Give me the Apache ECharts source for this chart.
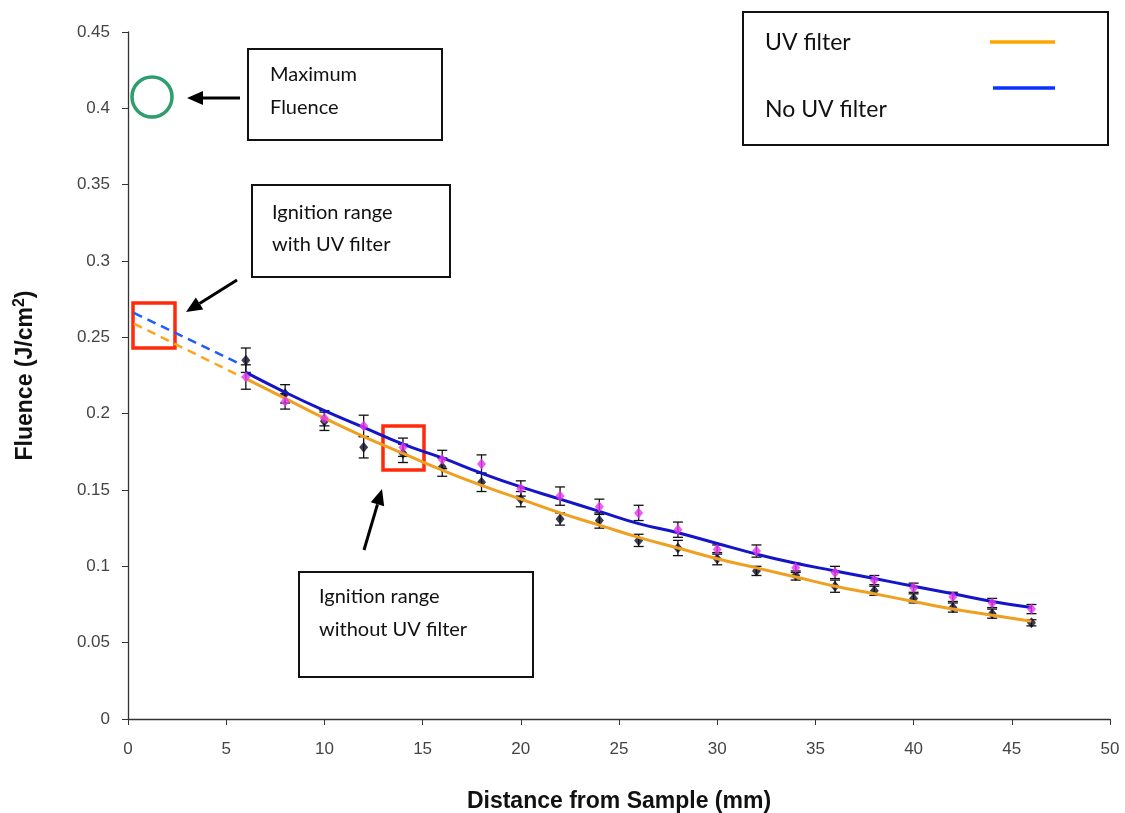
<!DOCTYPE html>
<html>
<head>
<meta charset="UTF-8">
<title>Fluence vs distance</title>
<script src="https://cdn.jsdelivr.net/npm/echarts@6/dist/echarts.min.js"></script>
<style>
html, body {
	margin: 0;
	padding: 0;
	background: #ffffff;
}

#main {
	width: 1125px;
	height: 813px;
}
</style>
</head>
<body>
	<div id="main"></div>
	<script>
		// distance from sample (mm)
		var distances = [6, 8, 10, 12, 14, 16, 18, 20, 22, 24, 26, 28, 30, 32, 34, 36, 38, 40, 42, 44, 46];
		// measured points, black diamonds
		var blackPts = [0.235, 0.213, 0.195, 0.178, 0.174, 0.165, 0.155, 0.144, 0.131, 0.130, 0.117, 0.112, 0.105, 0.097, 0.094, 0.087, 0.084, 0.079, 0.073, 0.069, 0.063];
		var blackErr = [0.008, 0.006, 0.006, 0.007, 0.006, 0.006, 0.006, 0.005, 0.004, 0.005, 0.004, 0.005, 0.004, 0.003, 0.003, 0.004, 0.003, 0.003, 0.003, 0.003, 0.002];
		// measured points, magenta diamonds
		var magentaPts = [0.224, 0.208, 0.197, 0.192, 0.178, 0.170, 0.167, 0.151, 0.146, 0.139, 0.135, 0.124, 0.111, 0.110, 0.099, 0.096, 0.091, 0.086, 0.080, 0.076, 0.072];
		var magentaErr = [0.008, 0.005, 0.005, 0.007, 0.006, 0.006, 0.006, 0.005, 0.006, 0.005, 0.005, 0.005, 0.003, 0.004, 0.003, 0.004, 0.003, 0.003, 0.003, 0.003, 0.003];
		// fitted curves
		var fitUV = [0.223, 0.210, 0.197, 0.185, 0.174, 0.163, 0.153, 0.144, 0.135, 0.127, 0.119, 0.112, 0.105, 0.099, 0.093, 0.087, 0.082, 0.077, 0.072, 0.068, 0.064];
		var fitNoUV = [0.227, 0.214, 0.202, 0.191, 0.180, 0.171, 0.161, 0.152, 0.144, 0.136, 0.128, 0.122, 0.115, 0.108, 0.102, 0.097, 0.092, 0.087, 0.082, 0.077, 0.073];
		// dashed extrapolation toward the sample
		var extraX = [0.3, 5.8];
		var extraUV = [0.259, 0.224];
		var extraNoUV = [0.266, 0.232];

		var xTicks = [0, 5, 10, 15, 20, 25, 30, 35, 40, 45, 50];

		function pairs(xs, ys) {
			return xs.map(function(x, i) { return [x, ys[i]]; });
		}
		function errRows(xs, ys, es) {
			return xs.map(function(x, i) { return [x, ys[i] - es[i], ys[i] + es[i]]; });
		}

		function errBar(params, api) {
			var top = api.coord([api.value(0), api.value(2)]);
			var bot = api.coord([api.value(0), api.value(1)]);
			var w = 5;
			var st = { stroke: '#111', lineWidth: 1.3 };
			return {
				type : 'group',
				children : [
					{ type : 'line', shape : { x1 : top[0], y1 : top[1], x2 : bot[0], y2 : bot[1] }, style : st },
					{ type : 'line', shape : { x1 : top[0] - w, y1 : top[1], x2 : top[0] + w, y2 : top[1] }, style : st },
					{ type : 'line', shape : { x1 : bot[0] - w, y1 : bot[1], x2 : bot[0] + w, y2 : bot[1] }, style : st }
				]
			};
		}

		// arrow drawn as a line with a filled head at (x2, y2)
		function arrow(x1, y1, x2, y2) {
			var a = Math.atan2(y2 - y1, x2 - x1);
			var len = 16, half = 7;
			var bx = x2 - len * Math.cos(a), by = y2 - len * Math.sin(a);
			var px = -Math.sin(a) * half, py = Math.cos(a) * half;
			return {
				type : 'group',
				children : [
					{ type : 'line', shape : { x1 : x1, y1 : y1, x2 : bx, y2 : by }, style : { stroke : '#000', lineWidth : 3 } },
					{ type : 'polygon', shape : { points : [[x2, y2], [bx + px, by + py], [bx - px, by - py]] }, style : { fill : '#000' } }
				]
			};
		}

		function textBox(x, y, w, h, lines, tx, ty, gap) {
			var kids = [{ type : 'rect', shape : { x : x, y : y, width : w, height : h }, style : { fill : '#fff', stroke : '#111', lineWidth : 2 } }];
			lines.forEach(function(t, i) {
				kids.push({ type : 'text', x : tx, y : ty + i * gap, style : { text : t, font : '20px Lato, "Open Sans", sans-serif', fill : '#111', verticalAlign : 'middle' } });
			});
			return { type : 'group', children : kids };
		}

		var boxFont = '23px Lato, "Open Sans", sans-serif';

		var option = {
			backgroundColor : '#ffffff',
			animation : false,
			grid : {
				left : 128,
				right : 15,
				top : 32,
				bottom : 94,
				outerBoundsMode : 'none'
			},
			xAxis : {
				type : 'value',
				min : 0,
				max : 50,
				interval : 5,
				name : 'Distance from Sample (mm)',
				nameLocation : 'middle',
				nameGap : 71,
				nameTextStyle : {
					fontFamily : 'Liberation Sans, Arial, sans-serif',
					fontWeight : 'bold',
					fontSize : 23,
					color : '#111'
				},
				axisLine : { lineStyle : { color : '#333', width : 1.3 } },
				axisTick : { show : true, length : 6, lineStyle : { color : '#333' } },
				axisLabel : {
					fontFamily : 'Liberation Sans, Arial, sans-serif',
					fontSize : 17,
					color : '#444',
					margin : 22,
					customValues : xTicks
				},
				splitLine : { show : false }
			},
			yAxis : {
				type : 'value',
				min : 0,
				max : 0.45,
				interval : 0.05,
				name : 'Fluence (J/cm{sup|2})',
				nameLocation : 'middle',
				nameGap : 88,
				nameTextStyle : {
					fontFamily : 'Liberation Sans, Arial, sans-serif',
					fontWeight : 'bold',
					fontSize : 23,
					color : '#111',
					rich : {
						sup : {
							fontFamily : 'Liberation Sans, Arial, sans-serif',
							fontWeight : 'bold',
							fontSize : 16,
							color : '#111',
							verticalAlign : 'bottom',
							padding : [0, 0, 12, 0]
						}
					}
				},
				axisLine : { show : true, lineStyle : { color : '#333', width : 1.3 } },
				axisTick : { show : true, length : 6, lineStyle : { color : '#333' } },
				axisLabel : {
					fontFamily : 'Liberation Sans, Arial, sans-serif',
					fontSize : 17,
					color : '#444',
					margin : 18
				},
				splitLine : { show : false }
			},
			series : [
				{
					name : 'extra UV',
					type : 'line',
					data : pairs(extraX, extraUV),
					symbol : 'none',
					lineStyle : { color : '#ffa31a', width : 2.5, type : [9, 6] },
					z : 2
				},
				{
					name : 'extra no UV',
					type : 'line',
					data : pairs(extraX, extraNoUV),
					symbol : 'none',
					lineStyle : { color : '#1f5cff', width : 2.5, type : [9, 6] },
					z : 2
				},
				{
					name : 'err black',
					type : 'custom',
					renderItem : errBar,
					data : errRows(distances, blackPts, blackErr),
					z : 3
				},
				{
					name : 'err magenta',
					type : 'custom',
					renderItem : errBar,
					data : errRows(distances, magentaPts, magentaErr),
					z : 3
				},
				{
					name : 'black points',
					type : 'scatter',
					data : pairs(distances, blackPts),
					symbol : 'diamond',
					symbolSize : [9, 11],
					itemStyle : { color : '#0d0d26' },
					z : 4
				},
				{
					name : 'UV filter',
					type : 'line',
					data : pairs(distances, fitUV),
					smooth : true,
					symbol : 'none',
					lineStyle : { color : '#f0a020', width : 3 },
					z : 5
				},
				{
					name : 'No UV filter',
					type : 'line',
					data : pairs(distances, fitNoUV),
					smooth : true,
					symbol : 'none',
					lineStyle : { color : '#1414c8', width : 3 },
					z : 5
				},
				{
					name : 'magenta points',
					type : 'scatter',
					data : pairs(distances, magentaPts),
					symbol : 'diamond',
					symbolSize : [9, 11],
					itemStyle : { color : '#e633f0' },
					z : 6
				}
			],
			graphic : [
				// legend box
				{
					type : 'group',
					children : [
						{ type : 'rect', shape : { x : 743, y : 12, width : 365, height : 133 }, style : { fill : '#fff', stroke : '#111', lineWidth : 2 } },
						{ type : 'text', x : 765, y : 43, style : { text : 'UV filter', font : boxFont, fill : '#111', verticalAlign : 'middle' } },
						{ type : 'text', x : 765, y : 110, style : { text : 'No UV filter', font : boxFont, fill : '#111', verticalAlign : 'middle' } },
						{ type : 'line', shape : { x1 : 990, y1 : 42, x2 : 1055, y2 : 42 }, style : { stroke : '#ffa500', lineWidth : 3.5 } },
						{ type : 'line', shape : { x1 : 993, y1 : 88, x2 : 1055, y2 : 88 }, style : { stroke : '#0a32ff', lineWidth : 3.5 } }
					]
				},
				textBox(248, 49, 194, 91, ['Maximum', 'Fluence'], 270, 75, 33),
				textBox(252, 185, 198, 92, ['Ignition range', 'with UV filter'], 272, 213, 32),
				textBox(299, 572, 234, 105, ['Ignition range', 'without UV filter'], 319, 597, 33),
				{ type : 'circle', shape : { cx : 152, cy : 97, r : 20 }, style : { fill : 'none', stroke : '#2e9e6e', lineWidth : 3.5 } },
				{ type : 'rect', shape : { x : 133, y : 303, width : 42, height : 45 }, style : { fill : 'none', stroke : '#ff2a0a', lineWidth : 3.5 } },
				{ type : 'rect', shape : { x : 383, y : 426, width : 41, height : 44 }, style : { fill : 'none', stroke : '#ff2a0a', lineWidth : 3.5 } },
				arrow(240, 98, 187, 98),
				arrow(237, 280, 186, 312),
				arrow(364, 550, 382, 489)
			]
		};

		var mychart = echarts.init(document.getElementById('main'));
		mychart.setOption(option);
	</script>
</body>
</html>
